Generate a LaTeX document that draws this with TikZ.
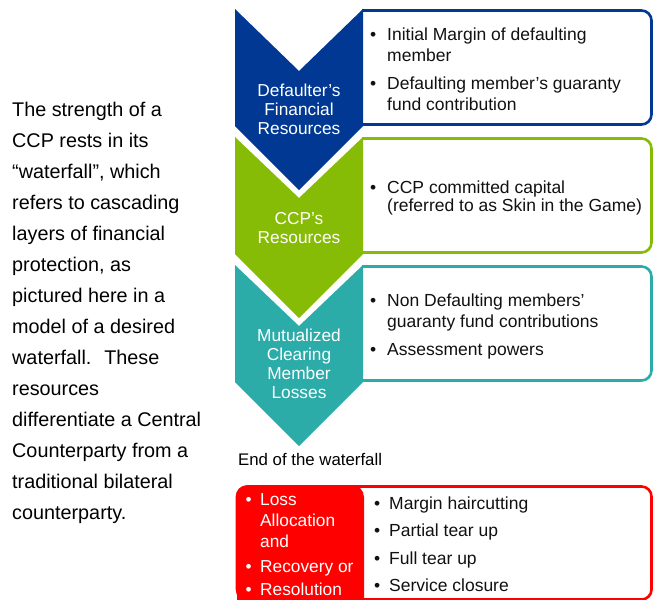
\documentclass[tikz,border=0pt]{standalone}
\usepackage{fontspec}
\setmainfont{Liberation Sans}
\definecolor{cblue}{HTML}{003893}
\definecolor{cgreen}{HTML}{86BC06}
\definecolor{cteal}{HTML}{2BACA9}
\definecolor{cred}{HTML}{FF0000}
\definecolor{ctext}{HTML}{111111}
\newcommand\tl[1]{\begin{tabular}[t]{@{}l@{}}#1\end{tabular}}
\newcommand\tc[1]{\begin{tabular}[t]{@{}c@{}}#1\end{tabular}}
\newcommand\tb[2]{\begin{tabular}[t]{@{}p{#1}@{}l@{}}#2\end{tabular}}
\begin{document}
\begin{tikzpicture}[x=1pt,y=-1pt,
  lbl/.style={inner sep=0pt, anchor=base, text=white, font=\fontsize{17.3}{19}\selectfont},
  itm/.style={inner sep=0pt, anchor=base west, text=ctext, font=\fontsize{17.5}{21.5}\selectfont},
  box/.style={line width=2.6pt, fill=white, rounded corners=10pt}]
\useasboundingbox (0,0) rectangle (654,600);
\clip (0,0) rectangle (654,600);

% right boxes
\draw[box, draw=cblue]  (362,10.5)  -- (651.5,10.5)  -- (651.5,124.5) -- (362,124.5);
\draw[box, draw=cgreen] (362,138.5) -- (651.5,138.5) -- (651.5,252.5) -- (362,252.5);
\draw[box, draw=cteal]  (362,266.5) -- (651.5,266.5) -- (651.5,380.5) -- (362,380.5);

% chevrons
\fill[cblue]  (235,9)   -- (299,71)  -- (363,9)   -- (363,126) -- (299,190) -- (235,126) -- cycle;
\fill[cgreen] (235,137) -- (299,198) -- (363,137) -- (363,254) -- (299,318) -- (235,254) -- cycle;
\fill[cteal]  (235,265) -- (299,326) -- (363,265) -- (363,382) -- (299,446) -- (235,382) -- cycle;

% red section
\draw[box, draw=cred] (237,486.5) rectangle (651.5,599.5);
\fill[cred, rounded corners=12pt] (237,485) rectangle (364,615);

% left paragraph
\node[inner sep=0pt, anchor=base west, text=black, font=\fontsize{19.8}{31}\selectfont] (para) at (12,116)
  {\tl{The strength of a\\CCP rests in its\\“waterfall”, which\\refers to cascading\\layers of financial\\protection, as\\pictured here in a\\model of a desired\\waterfall.~ These\\resources\\differentiate a Central\\Counterparty from a\\traditional bilateral\\counterparty.}};

% chevron labels
\node[lbl] (l1) at (299,96)  {\tc{Defaulter’s\\Financial\\Resources}};
\node[lbl] (l2) at (299,224) {\tc{CCP’s\\Resources}};
\node[lbl] (l3) at (299,341) {\tc{Mutualized\\Clearing\\Member\\Losses}};

% box texts
\node[itm] (t1) at (370,40)
  {\tb{17pt}{\textbullet & Initial Margin of defaulting\\ & member\\[6pt]
             \textbullet & Defaulting member’s guaranty\\ & fund contribution}};
\node[itm, font=\fontsize{17.5}{18.5}\selectfont] (t2) at (370,193)
  {\tb{17pt}{\textbullet & CCP committed capital\\ & (referred to as Skin in the Game)}};
\node[itm] (t3) at (370,306)
  {\tb{17pt}{\textbullet & Non Defaulting members’\\ & guaranty fund contributions\\[6.5pt]
             \textbullet & Assessment powers}};

\node[inner sep=0pt, anchor=base west, text=black, font=\fontsize{16.8}{20}\selectfont] (end) at (238,465) {End of the waterfall};

% red texts
\node[itm, text=white, font=\fontsize{17.3}{21}\selectfont] (r1) at (245.3,505)
  {\tb{14.7pt}{\textbullet & Loss\\ & Allocation\\ & and\\[4pt]
               \textbullet & Recovery or\\[2pt]
               \textbullet & Resolution}};
\node[itm] (r2) at (374,509)
  {\tb{15pt}{\textbullet & Margin haircutting\\[6pt]
             \textbullet & Partial tear up\\[6pt]
             \textbullet & Full tear up\\[6pt]
             \textbullet & Service closure}};
\end{tikzpicture}
\end{document}
